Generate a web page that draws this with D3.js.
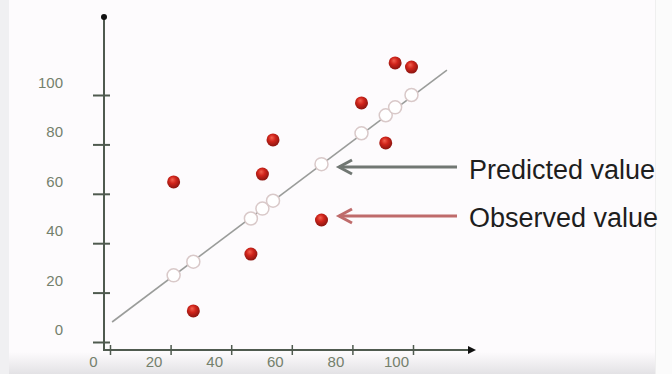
<!DOCTYPE html>
<html>
<head>
<meta charset="utf-8">
<script src="https://cdn.jsdelivr.net/npm/d3@7/dist/d3.min.js"></script>
<style>
  html, body { margin: 0; padding: 0; background: #fdfbfd; }
  svg { display: block; }
</style>
</head>
<body>
<svg id="chart" width="672" height="374"></svg>
<script>
// ---- data ----
const xValues        = [21, 27.5, 46.5, 50.3, 53.8, 69.8, 83, 91, 94.1, 99.5];
const observedValues = [64.8, 12.6, 35.6, 68, 81.8, 49.4, 96.8, 80.6, 113, 111.3];
const predictedValues= [27, 32.5, 50, 54, 57.2, 72, 84.5, 91.8, 95, 100];
const fitLineX       = [0.7, 111.2];
const fitLineY       = [8.1, 110.1];
const xTicks         = [0, 20, 40, 60, 80, 100];
const yTicks         = [0, 20, 40, 60, 80, 100];
const legendLabels   = ["Predicted value", "Observed value"];

const svg = d3.select("#chart");
const W = 672, H = 374;

// background decorations (video-frame look)
const defs = svg.append("defs");
const bg = defs.append("linearGradient").attr("id", "bottomFade")
  .attr("x1", 0).attr("y1", 0).attr("x2", 0).attr("y2", 1);
bg.append("stop").attr("offset", "0%").attr("stop-color", "#fdfbfd");
bg.append("stop").attr("offset", "100%").attr("stop-color", "#e3e2e5");

const rg = defs.append("radialGradient").attr("id", "redBall")
  .attr("cx", "45%").attr("cy", "40%").attr("r", "60%").attr("fx", "40%").attr("fy", "32%");
rg.append("stop").attr("offset", "0%").attr("stop-color", "#f2614f");
rg.append("stop").attr("offset", "45%").attr("stop-color", "#d0241b");
rg.append("stop").attr("offset", "100%").attr("stop-color", "#8a1510");

svg.append("rect").attr("width", W).attr("height", H).attr("fill", "#fdfbfd");
svg.append("rect").attr("x", 0).attr("y", 352).attr("width", W).attr("height", 22).attr("fill", "url(#bottomFade)");
svg.append("rect").attr("x", 0).attr("y", 0).attr("width", 9).attr("height", H).attr("fill", "#f0f0f2");
svg.append("rect").attr("x", 656).attr("y", 0).attr("width", 16).attr("height", H).attr("fill", "#fbfbfb");
svg.append("line").attr("x1", 655.5).attr("x2", 655.5).attr("y1", 0).attr("y2", H)
  .attr("stroke", "#efefef").attr("stroke-width", 1);

// scales
const x = d3.scaleLinear().domain([0, 100]).range([110, 413]);
const y = d3.scaleLinear().domain([0, 100]).range([342, 95]);

const axisColor = "#4f5a4f";
const labelColor = "#74806c";

// ---- Y axis ----
const yAxisX = 104;
svg.append("line").attr("x1", yAxisX).attr("x2", yAxisX).attr("y1", 17).attr("y2", 351)
  .attr("stroke", axisColor).attr("stroke-width", 2);
svg.append("circle").attr("cx", yAxisX).attr("cy", 17).attr("r", 3).attr("fill", "#111");

const gy = svg.append("g").attr("transform", `translate(${yAxisX},0)`)
  .call(d3.axisLeft(y).tickValues(yTicks).tickSize(11).tickPadding(30).tickFormat(d3.format("d")));
gy.select(".domain").remove();
gy.selectAll(".tick line").attr("x1", 6).attr("stroke", axisColor).attr("stroke-width", 2);
gy.selectAll(".tick text")
  .attr("dy", "-0.5em")
  .attr("fill", labelColor)
  .style("font-family", "'Liberation Sans', Arial, sans-serif")
  .style("font-size", "15px");

// ---- X axis ----
const xAxisY = 350;
svg.append("line").attr("x1", yAxisX).attr("x2", 470).attr("y1", xAxisY).attr("y2", xAxisY)
  .attr("stroke", axisColor).attr("stroke-width", 2);
svg.append("path").attr("d", `M476,${xAxisY} L468,${xAxisY - 4} L468,${xAxisY + 4} Z`).attr("fill", "#111");

const gx = svg.append("g").attr("transform", `translate(0,${xAxisY})`)
  .call(d3.axisBottom(x).tickValues(xTicks).tickSize(5).tickPadding(1).tickFormat(d3.format("d")));
gx.select(".domain").remove();
gx.selectAll(".tick line").attr("y1", -5).attr("stroke", axisColor).attr("stroke-width", 1.5);
gx.selectAll(".tick text")
  .attr("dx", -17)
  .attr("fill", labelColor)
  .style("font-family", "'Liberation Sans', Arial, sans-serif")
  .style("font-size", "15px");

// ---- regression line ----
svg.append("line")
  .attr("x1", x(fitLineX[0])).attr("y1", y(fitLineY[0]))
  .attr("x2", x(fitLineX[1])).attr("y2", y(fitLineY[1]))
  .attr("stroke", "#9a9c9a").attr("stroke-width", 1.6);

// ---- predicted (hollow) points ----
svg.append("g").selectAll("circle")
  .data(xValues.map((v, i) => ({ x: v, y: predictedValues[i] })))
  .join("circle")
  .attr("cx", d => x(d.x)).attr("cy", d => y(d.y)).attr("r", 6.5)
  .attr("fill", "#ffffff").attr("stroke", "#d9c9c9").attr("stroke-width", 1.5);

// ---- observed (red) points ----
svg.append("g").selectAll("circle")
  .data(xValues.map((v, i) => ({ x: v, y: observedValues[i] })))
  .join("circle")
  .attr("cx", d => x(d.x)).attr("cy", d => y(d.y)).attr("r", 6.5)
  .attr("fill", "url(#redBall)");

// ---- annotation arrows + labels ----
const annot = [
  { label: legendLabels[0], yPos: 167, color: "#717773", textY: 179 },
  { label: legendLabels[1], yPos: 216, color: "#bf6b6b", textY: 227 }
];
annot.forEach(a => {
  svg.append("line").attr("x1", 339).attr("x2", 457).attr("y1", a.yPos).attr("y2", a.yPos)
    .attr("stroke", a.color).attr("stroke-width", 3);
  svg.append("path").attr("d", `M352,${a.yPos - 7} L339,${a.yPos} L352,${a.yPos + 7}`)
    .attr("fill", "none").attr("stroke", a.color).attr("stroke-width", 3).attr("stroke-linejoin", "miter");
  svg.append("text").attr("x", 469).attr("y", a.textY)
    .text(a.label)
    .attr("fill", "#1e1e1e")
    .style("font-family", "'Liberation Sans', Arial, sans-serif")
    .style("font-size", "27px");
});
</script>
</body>
</html>
